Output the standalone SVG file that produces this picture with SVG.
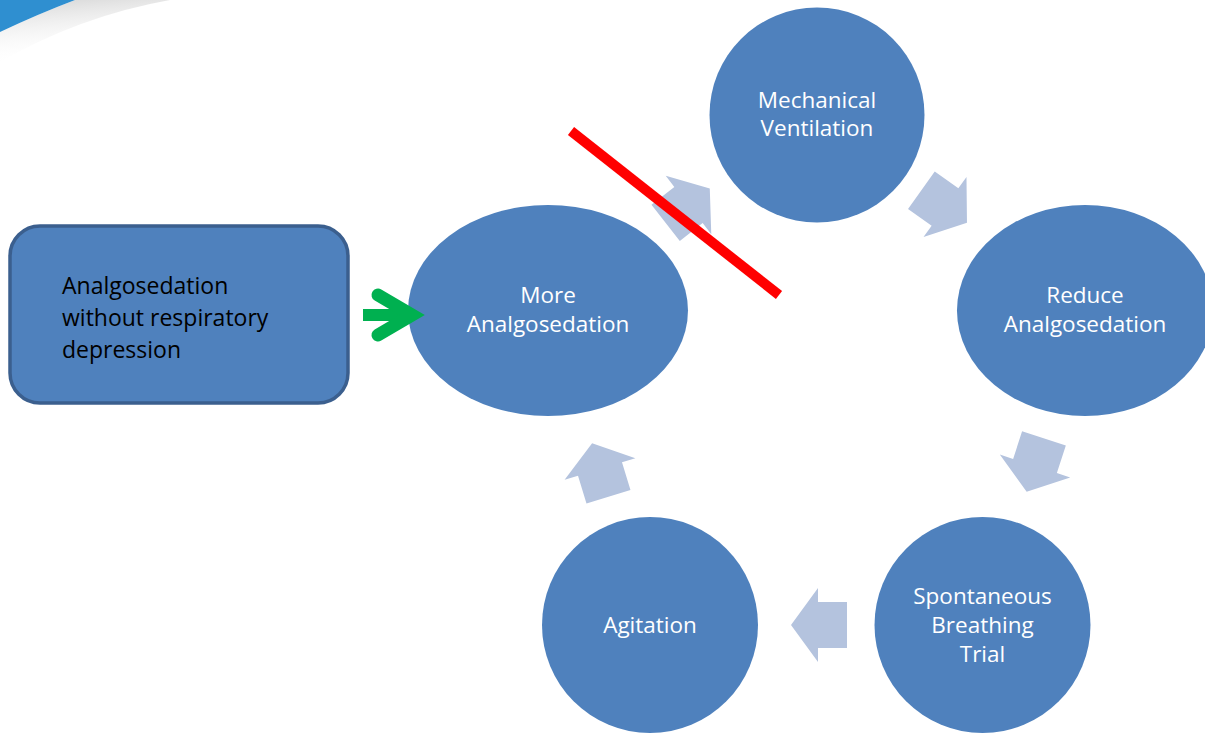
<svg xmlns="http://www.w3.org/2000/svg" xmlns:xlink="http://www.w3.org/1999/xlink" width="1205" height="733" viewBox="0 0 1205 733">
  <style>
    .node { fill: #4f81bd; }
    .lbl { font-family: "Open Sans", "Liberation Sans", sans-serif; font-size: 22.5px; fill: #ffffff; text-anchor: middle; }
    .boxlbl { font-family: "Open Sans", "Liberation Sans", sans-serif; font-size: 23px; fill: #000000; }
    .cyc { fill: #b4c3de; }
  </style>
  <defs>
    <polygon id="blockArrow" points="-29,-23 0,-23 0,-37 27,0 0,37 0,23 -29,23"/>
    <linearGradient id="shadow" x1="0" y1="0" x2="0.25" y2="1">
      <stop offset="0" stop-color="#d4d4d4"/>
      <stop offset="1" stop-color="#ffffff" stop-opacity="0"/>
    </linearGradient>
  </defs>
  <rect width="1205" height="733" fill="#ffffff"/>

  <!-- decorative corner swoosh -->
  <g id="corner">
    <path d="M0,32 Q38,14 75,0 H170 Q80,16 0,62 Z" fill="url(#shadow)"/>
    <path d="M0,0 H75 Q38,14 0,32 Z" fill="#2f8fd0"/>
  </g>

  <g id="node-box">
    <rect x="10" y="226" width="338" height="177" rx="30" ry="30" fill="#4f81bd" stroke="#3b5f8e" stroke-width="3.5"/>
    <text class="boxlbl" x="62" y="294">Analgosedation</text>
    <text class="boxlbl" x="62" y="326">without respiratory</text>
    <text class="boxlbl" x="62" y="358">depression</text>
  </g>

  <g id="node-more">
    <ellipse class="node" cx="548" cy="310.5" rx="140" ry="105.5"/>
    <text class="lbl" x="548" y="303">More</text>
    <text class="lbl" x="548" y="332">Analgosedation</text>
  </g>

  <g id="node-mech">
    <circle class="node" cx="817" cy="115" r="107.5"/>
    <text class="lbl" x="817" y="108">Mechanical</text>
    <text class="lbl" x="817" y="136">Ventilation</text>
  </g>

  <g id="node-reduce">
    <ellipse class="node" cx="1085" cy="310.5" rx="128" ry="105.5"/>
    <text class="lbl" x="1085" y="303">Reduce</text>
    <text class="lbl" x="1085" y="332">Analgosedation</text>
  </g>

  <g id="node-sbt">
    <circle class="node" cx="982.5" cy="625" r="108"/>
    <text class="lbl" x="982.5" y="604">Spontaneous</text>
    <text class="lbl" x="982.5" y="633">Breathing</text>
    <text class="lbl" x="982.5" y="662">Trial</text>
  </g>

  <g id="node-agitation">
    <circle class="node" cx="650" cy="625" r="108"/>
    <text class="lbl" x="650" y="633">Agitation</text>
  </g>

  <g id="connectors">
    <use xlink:href="#blockArrow" class="cyc" transform="translate(688.5,205) rotate(-38)"/>
    <use xlink:href="#blockArrow" class="cyc" transform="translate(945,207) rotate(35.5)"/>
    <use xlink:href="#blockArrow" class="cyc" transform="translate(1035,466) rotate(108)"/>
    <use xlink:href="#blockArrow" class="cyc" transform="translate(818,625) rotate(180)"/>
    <use xlink:href="#blockArrow" class="cyc" transform="translate(600,469) rotate(-107)"/>
    <g id="green-arrow" fill="none" stroke="#00b050">
      <line x1="363" y1="315" x2="414" y2="315" stroke-width="12"/>
      <polyline points="378,295 412,315 378,335" stroke-width="13" stroke-linecap="round" stroke-linejoin="miter" stroke-miterlimit="10"/>
    </g>
    <line id="red-strike" x1="571" y1="131" x2="779" y2="295" stroke="#ff0000" stroke-width="10"/>
  </g>
</svg>
